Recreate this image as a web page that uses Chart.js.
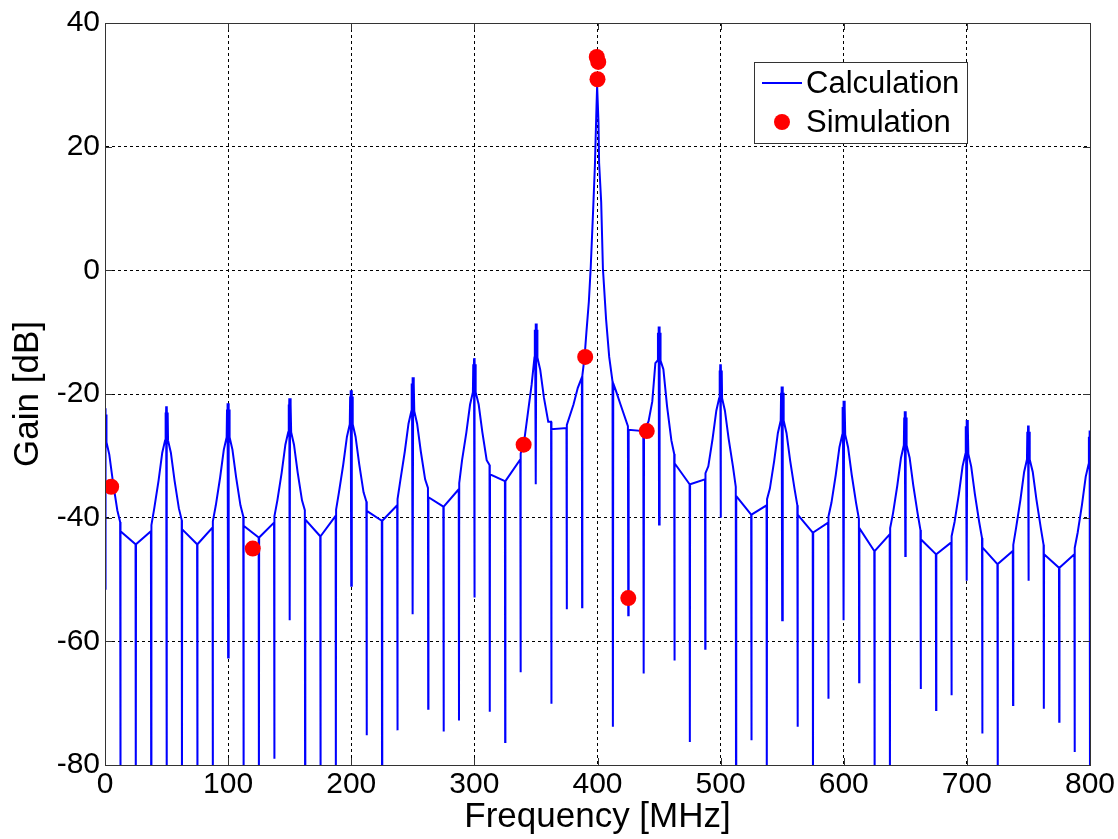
<!DOCTYPE html>
<html>
<head>
<meta charset="utf-8">
<script src="https://cdn.jsdelivr.net/npm/chart.js@4.4.0/dist/chart.umd.min.js"></script>
<style>
  html, body { margin: 0; padding: 0; background: #fff; }
  #wrap { width: 1118px; height: 839px; }
</style>
</head>
<body>
<div id="wrap"><canvas id="gainChart" width="1118" height="839"></canvas></div>
<script>
// calculated gain curve, one row per 50 MHz period
const calcFreq = [
  0, 0.3, 0.6, 0.9, 1.2, 3.5, 6.5, 10, 12.3, 12.5, 12.7, 24.8, 25, 25.2, 37.3, 37.5, 37.7, 40, 43.5, 46.5,
  48.8, 49.1, 49.4, 49.7, 50, 50.3, 50.6, 50.9, 51.2, 53.5, 56.5, 60, 62.3, 62.5, 62.7, 74.8, 75, 75.2, 87.3, 87.5, 87.7, 90, 93.5, 96.5,
  98.8, 99.1, 99.4, 99.7, 100, 100.3, 100.6, 100.9, 101.2, 103.5, 106.5, 110, 112.3, 112.5, 112.7, 124.8, 125, 125.2, 137.3, 137.5, 137.7, 140, 143.5, 146.5,
  148.8, 149.1, 149.4, 149.7, 150, 150.3, 150.6, 150.9, 151.2, 153.5, 156.5, 160, 162.3, 162.5, 162.7, 174.8, 175, 175.2, 187.3, 187.5, 187.7, 190, 193.5, 196.5,
  198.8, 199.1, 199.4, 199.7, 200, 200.3, 200.6, 200.9, 201.2, 203.5, 206.5, 210, 212.3, 212.5, 212.7, 224.8, 225, 225.2, 237.3, 237.5, 237.7, 240, 243.5, 246.5,
  248.8, 249.1, 249.4, 249.7, 250, 250.3, 250.6, 250.9, 251.2, 253.5, 256.5, 260, 262.3, 262.5, 262.7, 274.8, 275, 275.2, 287.3, 287.5, 287.7, 290, 293.5, 296.5,
  298.8, 299.1, 299.4, 299.7, 300, 300.3, 300.6, 300.9, 301.2, 303.5, 306.5, 310, 312.3, 312.5, 312.7, 324.8, 325, 325.2, 337.3, 337.5, 337.7, 340, 343.5, 346.5,
  348.8, 349.1, 349.4, 349.7, 350, 350.3, 350.6, 350.9, 351.2, 353.5, 356.5, 360, 362.3, 362.5, 362.7, 374.8, 375, 375.2, 380.5, 384, 387.3, 387.5, 387.7,
  389.5, 391, 393, 394.5, 396.3, 397.9, 399.2, 399.7, 400.3, 400.8, 401.3, 403, 404.4, 407, 409.5, 412.2, 412.5, 412.8,
  415, 418.7, 424.7, 425, 425.3, 437.2, 437.5, 437.8, 441.5, 444.5, 447,
  448.8, 449.1, 449.4, 449.7, 450, 450.3, 450.6, 450.9, 451.2, 453.5, 456.5, 460, 462.3, 462.5, 462.7, 474.8, 475, 475.2, 487.3, 487.5, 487.7, 490, 493.5, 496.5,
  498.8, 499.1, 499.4, 499.7, 500, 500.3, 500.6, 500.9, 501.2, 503.5, 506.5, 510, 512.3, 512.5, 512.7, 524.8, 525, 525.2, 537.3, 537.5, 537.7, 540, 543.5, 546.5,
  548.8, 549.1, 549.4, 549.7, 550, 550.3, 550.6, 550.9, 551.2, 553.5, 556.5, 560, 562.3, 562.5, 562.7, 574.8, 575, 575.2, 587.3, 587.5, 587.7, 590, 593.5, 596.5,
  598.8, 599.1, 599.4, 599.7, 600, 600.3, 600.6, 600.9, 601.2, 603.5, 606.5, 610, 612.3, 612.5, 612.7, 624.8, 625, 625.2, 637.3, 637.5, 637.7, 640, 643.5, 646.5,
  648.8, 649.1, 649.4, 649.7, 650, 650.3, 650.6, 650.9, 651.2, 653.5, 656.5, 660, 662.3, 662.5, 662.7, 674.8, 675, 675.2, 687.3, 687.5, 687.7, 690, 693.5, 696.5,
  698.8, 699.1, 699.4, 699.7, 700, 700.3, 700.6, 700.9, 701.2, 703.5, 706.5, 710, 712.3, 712.5, 712.7, 724.8, 725, 725.2, 737.3, 737.5, 737.7, 740, 743.5, 746.5,
  748.8, 749.1, 749.4, 749.7, 750, 750.3, 750.6, 750.9, 751.2, 753.5, 756.5, 760, 762.3, 762.5, 762.7, 774.8, 775, 775.2, 787.3, 787.5, 787.7, 790, 793.5, 796.5,
  798.8, 799.1, 799.4, 799.7, 800
];
const calcGain = [
  -51.5, -22.3, -27.8, -23.3, -27.8, -29.8, -34.3, -38.8, -40.7, -85, -42.2, -44.3, -85, -44.3, -42.2, -85, -41.2, -38.5, -34, -29.5,
  -27.5, -23, -27.5, -22, -85, -22, -27.5, -23, -27.5, -29.5, -34, -38.5, -40.4, -85, -41.9, -44.3, -85, -44.3, -41.6, -85, -40.6, -38, -33.5, -29,
  -27, -22.5, -27, -21.5, -62.6, -21.5, -27, -22.5, -27, -29, -33.5, -38, -39.8, -85, -41.3, -43.2, -85, -43.2, -40.8, -79, -39.8, -37.2, -32.7, -28.2,
  -26.2, -21.7, -26.2, -20.7, -56.6, -20.7, -26.2, -21.7, -26.2, -28.2, -32.7, -37.2, -38.8, -85, -40.3, -43, -85, -43, -39.7, -85, -38.7, -35.9, -31.4, -26.9,
  -24.9, -20.4, -24.9, -19.4, -51, -19.4, -24.9, -20.4, -24.9, -26.9, -31.4, -35.9, -37.4, -75.2, -38.9, -40.5, -85, -40.5, -38, -74.4, -37, -33.8, -29.3, -24.8,
  -22.8, -18.3, -22.8, -17.3, -55.6, -17.3, -22.8, -18.3, -22.8, -24.8, -29.3, -33.8, -35.2, -70.9, -36.7, -38.2, -74.6, -38.2, -35.4, -72.8, -34.4, -30.7, -26.2, -21.7,
  -19.7, -15.2, -19.7, -14.2, -52.9, -14.2, -19.7, -15.2, -19.7, -21.7, -26.2, -30.7, -31.5, -71.4, -33, -34.1, -76.3, -34.1, -30.6, -65, -29.6, -28.3, -23, -18.5,
  -14.1, -9.6, -14.1, -8.6, -34.6, -8.6, -14.1, -9.6, -14.1, -16.1, -20.6, -24.5, -24.5, -70.1, -25.7, -25.5, -54.8, -25, -21.7, -19, -17.3, -54.5, -17,
  -14, -10, -5, 0.5, 9, 17, 26.5, 29.8, 29.8, 24, 17.4, 11, 0.3, -8, -14, -18, -73.8, -18.3,
  -19.5, -21.7, -25.2, -55.8, -25.8, -26, -65.2, -26, -24.4, -21.2, -15,
  -14.6, -10.1, -14.6, -9.1, -41.1, -9.1, -14.6, -10.1, -14.6, -16, -22, -27.5, -29.7, -63.1, -31.2, -34.6, -76.3, -34.6, -33.8, -61.2, -32.8, -31.7, -27.2, -22.7,
  -20.7, -16.2, -20.7, -15.2, -40, -15.2, -20.7, -16.2, -20.7, -22.7, -27.2, -31.7, -35, -85, -36.5, -39.5, -76, -39.5, -38, -85, -37, -35.3, -30.8, -26.3,
  -24.3, -19.8, -24.3, -18.8, -56.6, -18.8, -24.3, -19.8, -24.3, -26.3, -30.8, -35.3, -38, -73.8, -39.5, -42.4, -85, -42.4, -40.8, -69.3, -39.8, -37.6, -33.1, -28.6,
  -26.6, -22.1, -26.6, -21.1, -56.6, -21.1, -26.6, -22.1, -26.6, -28.6, -33.1, -37.6, -40.2, -66.6, -41.7, -45.4, -85, -45.4, -42.7, -85, -41.7, -39.3, -34.8, -30.3,
  -28.3, -23.8, -28.3, -22.8, -46.2, -22.8, -28.3, -23.8, -28.3, -30.3, -34.8, -39.3, -42, -67.7, -43.5, -45.9, -71.1, -45.9, -44, -68.7, -43, -40.7, -36.2, -31.7,
  -29.7, -25.2, -29.7, -24.2, -50.2, -24.2, -29.7, -25.2, -29.7, -31.7, -36.2, -40.7, -43.3, -74.9, -44.8, -47.5, -85, -47.5, -45.4, -70.3, -44.4, -41.6, -37.1, -32.6,
  -30.6, -26.1, -30.6, -25.1, -50.2, -25.1, -30.6, -26.1, -30.6, -32.6, -37.1, -41.6, -44.4, -70.9, -45.9, -48.1, -73, -48.1, -45.9, -77.9, -44.9, -42.4, -37.9, -33.4,
  -31.4, -26.9, -31.4, -25.9, -85
];

// simulated points
const simFreq = [5, 120, 340, 390, 399.4, 400.6, 400, 425, 440];
const simGain = [-35, -45, -28.2, -14, 34.5, 33.7, 30.9, -53, -26];

const xTicks = [0, 100, 200, 300, 400, 500, 600, 700, 800];
const yTicks = [-80, -60, -40, -20, 0, 20, 40];

const FONT = "Arial, 'Liberation Sans', Helvetica, sans-serif";

// box, inner ticks and legend, matlab style
const framePlugin = {
  id: 'frame',
  afterDatasetsDraw(chart) {
    const { ctx, chartArea: a, scales } = chart;
    ctx.save();
    ctx.strokeStyle = '#333';
    ctx.lineWidth = 1;
    ctx.beginPath();
    xTicks.forEach(v => {
      const x = Math.round(scales.x.getPixelForValue(v)) + 0.5;
      ctx.moveTo(x, a.bottom); ctx.lineTo(x, a.bottom - 7);
      ctx.moveTo(x, a.top); ctx.lineTo(x, a.top + 7);
    });
    yTicks.forEach(v => {
      const y = Math.round(scales.y.getPixelForValue(v)) + 0.5;
      ctx.moveTo(a.left, y); ctx.lineTo(a.left + 7, y);
      ctx.moveTo(a.right, y); ctx.lineTo(a.right - 7, y);
    });
    ctx.stroke();
    ctx.strokeRect(Math.round(a.left) + 0.5, Math.round(a.top) + 0.5,
                   Math.round(a.right - a.left), Math.round(a.bottom - a.top));

    // legend
    const ds = chart.data.datasets;
    ctx.fillStyle = '#fff';
    ctx.fillRect(754, 62, 214, 82);
    ctx.strokeStyle = '#333';
    ctx.strokeRect(754.5, 62.5, 213, 81);
    ctx.strokeStyle = ds[1].borderColor;
    ctx.lineWidth = 2;
    ctx.beginPath();
    ctx.moveTo(762, 83); ctx.lineTo(802, 83);
    ctx.stroke();
    ctx.fillStyle = ds[0].backgroundColor;
    ctx.beginPath();
    ctx.arc(782, 122, 8, 0, Math.PI * 2);
    ctx.fill();
    ctx.fillStyle = '#000';
    ctx.font = '31px ' + FONT;
    ctx.textBaseline = 'middle';
    ctx.fillText(ds[1].label, 806, 84);
    ctx.fillText(ds[0].label, 806, 123);
    ctx.restore();
  }
};

const ctx = document.getElementById('gainChart').getContext('2d');

new Chart(ctx, {
  type: 'scatter',
  data: {
    datasets: [
      {
        label: 'Simulation',
        data: simFreq.map((f, i) => ({ x: f, y: simGain[i] })),
        backgroundColor: '#ff0000',
        borderWidth: 0,
        pointRadius: 8,
        showLine: false,
        order: 0
      },
      {
        label: 'Calculation',
        data: calcFreq.map((f, i) => ({ x: f, y: calcGain[i] })),
        borderColor: '#0000ff',
        borderWidth: 2,
        pointRadius: 0,
        showLine: true,
        tension: 0,
        order: 1
      }
    ]
  },
  options: {
    responsive: false,
    animation: false,
    layout: { padding: { left: 0, right: 28, top: 20, bottom: 0 } },
    plugins: {
      legend: { display: false },
      tooltip: { enabled: false }
    },
    scales: {
      x: {
        type: 'linear',
        min: 0,
        max: 800,
        afterFit: (s) => { s.height = 74; },
        afterBuildTicks: (s) => { s.ticks = xTicks.map(v => ({ value: v })); },
        ticks: { color: '#000', font: { family: FONT, size: 30 }, padding: 2, maxRotation: 0 },
        grid: { color: '#000', lineWidth: 1, drawTicks: false },
        border: { display: true, color: '#333', dash: [3, 3] },
        title: {
          display: true, text: 'Frequency [MHz]', color: '#000',
          font: { family: FONT, size: 35 }, padding: { top: 0, bottom: 1 }
        }
      },
      y: {
        min: -80,
        max: 40,
        afterFit: (s) => { s.width = 105; },
        afterBuildTicks: (s) => { s.ticks = yTicks.map(v => ({ value: v })); },
        ticks: { color: '#000', font: { family: FONT, size: 30 }, padding: 5 },
        grid: { color: '#000', lineWidth: 1, drawTicks: false },
        border: { display: true, color: '#333', dash: [3, 3] },
        title: {
          display: true, text: 'Gain [dB]', color: '#000',
          font: { family: FONT, size: 35 }, padding: { top: 7, bottom: 0 }
        }
      }
    }
  },
  plugins: [framePlugin]
});
</script>
</body>
</html>
